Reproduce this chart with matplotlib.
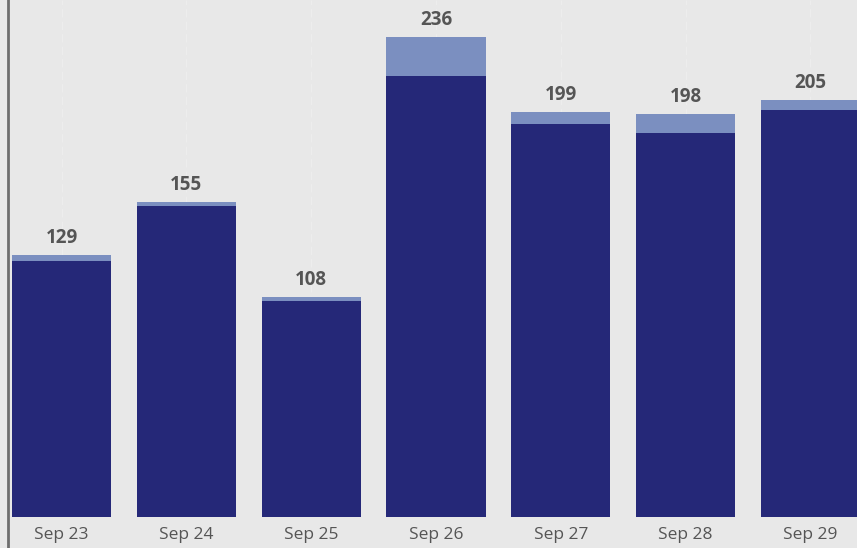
import numpy as np
import matplotlib.pyplot as plt

# daily counts, split into the base part and the extra on top
days = ["Sep 23", "Sep 24", "Sep 25", "Sep 26", "Sep 27", "Sep 28", "Sep 29"]
base = [126, 153, 106, 217, 193, 189, 200]
extra = [3, 2, 2, 19, 6, 9, 5]
totals = [b + e for b, e in zip(base, extra)]

bg = "#e8e8e8"
dark = "#252878"
light = "#7b8fc0"
txt = "#555555"

fig = plt.figure(figsize=(8.57, 5.48), dpi=100, facecolor=bg)
ax = fig.add_axes([8 / 857, 31 / 548, 1 - 8 / 857, 1 - 31 / 548])
ax.set_facecolor(bg)

x = np.arange(len(days))
ax.bar(x, base, width=0.795, color=dark, zorder=3)
ax.bar(x, extra, bottom=base, width=0.795, color=light, zorder=3)

for xi, t in zip(x, totals):
    ax.annotate(str(t), (xi, t), xytext=(0, 5), textcoords="offset points",
                ha="center", va="bottom", fontsize=13.5, fontweight="bold",
                color=txt, family="Open Sans")

# faint guide lines through the bar centres
for xi in x:
    ax.axvline(xi, color="#ededed", linewidth=1, linestyle=(0, (6, 3)), zorder=1)

ax.set_xlim(-0.429, 6.374)
ax.set_ylim(0, 254.2)
ax.set_xticks(x)
ax.set_xticklabels(days, fontsize=12.5, color=txt, family="Open Sans")
ax.tick_params(axis="x", length=0, pad=7)
ax.set_yticks([])

for side in ["top", "right", "bottom"]:
    ax.spines[side].set_visible(False)
ax.spines["left"].set_color("#6e6e6e")
ax.spines["left"].set_linewidth(2)
ax.spines["left"].set_bounds(-20, 254.2)
ax.spines["left"].set_clip_on(False)

fig.savefig("out.png", dpi=100, facecolor=bg)
